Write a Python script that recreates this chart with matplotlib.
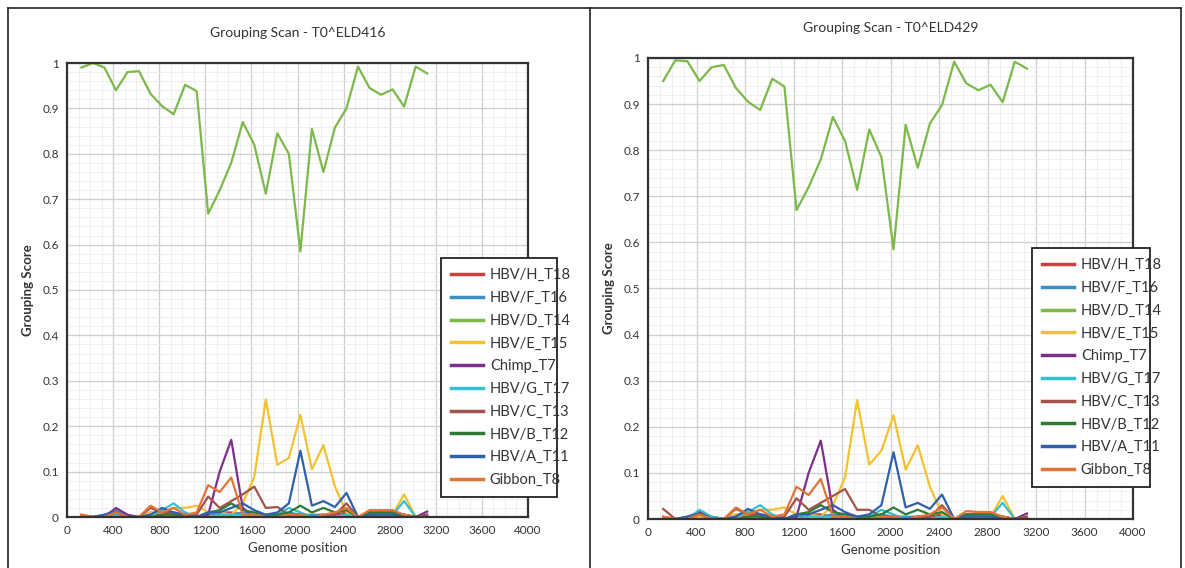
import matplotlib
matplotlib.use("Agg")
import matplotlib.pyplot as plt
import numpy as np
from matplotlib.lines import Line2D
from matplotlib.ticker import MultipleLocator, FuncFormatter

plt.rcParams['font.family'] = ['Lato', 'DejaVu Sans']

# window centres along the genome
positions = [125 + 100 * i for i in range(31)]

names = ["HBV/H_T18", "HBV/F_T16", "HBV/D_T14", "HBV/E_T15", "Chimp_T7",
         "HBV/G_T17", "HBV/C_T13", "HBV/B_T12", "HBV/A_T11", "Gibbon_T8"]
colors = ["#c8413c", "#3a8fc6", "#7cb84a", "#f2c230", "#7d2f8c",
          "#35c0d2", "#a3524c", "#2d7a33", "#2f60a8", "#e27438"]

# ---- T0^ELD416 ----
h18_a = [0.005, 0, 0, 0.01, 0, 0, 0.01, 0.005, 0.01, 0, 0, 0.005, 0.01, 0.01, 0.005, 0, 0, 0, 0, 0.005, 0, 0.005, 0.005, 0.01, 0, 0.01, 0.005, 0.01, 0.005, 0, 0.005]
f16_a = [0, 0, 0.005, 0.015, 0, 0, 0.005, 0.015, 0.01, 0.005, 0, 0.005, 0.01, 0.005, 0.01, 0.005, 0, 0.005, 0.01, 0.005, 0.005, 0.005, 0, 0.005, 0, 0.005, 0.005, 0.005, 0.005, 0, 0]
d14_a = [0.99, 1.0, 0.99, 0.94, 0.98, 0.982, 0.932, 0.905, 0.887, 0.952, 0.938, 0.668, 0.72, 0.78, 0.87, 0.82, 0.712, 0.845, 0.8, 0.585, 0.855, 0.76, 0.858, 0.9, 0.992, 0.945, 0.93, 0.942, 0.904, 0.992, 0.977]
e15_a = [0, 0, 0, 0.005, 0, 0, 0.01, 0.01, 0.02, 0.02, 0.025, 0.01, 0.01, 0.005, 0.03, 0.088, 0.259, 0.115, 0.13, 0.225, 0.105, 0.158, 0.067, 0.01, 0, 0.005, 0.005, 0.005, 0.05, 0, 0]
chimp_a = [0, 0, 0, 0.02, 0.005, 0, 0, 0, 0, 0, 0, 0.005, 0.1, 0.17, 0.02, 0, 0, 0, 0, 0, 0, 0, 0, 0, 0, 0, 0, 0, 0, 0, 0.012]
g17_a = [0, 0, 0, 0.005, 0, 0, 0.005, 0.015, 0.03, 0.01, 0, 0, 0.005, 0.005, 0.005, 0.005, 0, 0.005, 0.02, 0.01, 0, 0.005, 0, 0.005, 0, 0.005, 0.01, 0.005, 0.035, 0, 0]
c13_a = [0, 0, 0, 0.01, 0, 0, 0.02, 0.01, 0.01, 0, 0.005, 0.045, 0.02, 0.035, 0.05, 0.067, 0.02, 0.022, 0.005, 0.005, 0, 0.005, 0.005, 0.03, 0, 0.01, 0.01, 0.01, 0.005, 0, 0.005]
b12_a = [0, 0, 0, 0, 0, 0, 0, 0.005, 0.005, 0, 0, 0.01, 0.015, 0.03, 0.015, 0.01, 0.005, 0.005, 0.01, 0.025, 0.01, 0.02, 0.01, 0.015, 0, 0.01, 0.01, 0.01, 0.005, 0, 0]
a11_a = [0, 0, 0.005, 0.01, 0, 0, 0.005, 0.02, 0.01, 0.005, 0, 0.01, 0.01, 0.02, 0.03, 0.015, 0.005, 0.01, 0.03, 0.146, 0.025, 0.035, 0.022, 0.053, 0, 0.005, 0.005, 0.005, 0, 0, 0]
t8_a = [0.005, 0, 0, 0.01, 0, 0, 0.025, 0.01, 0.02, 0.005, 0.01, 0.07, 0.055, 0.087, 0.005, 0.005, 0, 0, 0.005, 0.005, 0, 0.005, 0.01, 0.02, 0, 0.015, 0.015, 0.015, 0.005, 0, 0]

# ---- T0^ELD429 ----
h18_b = [0.005, 0, 0, 0.01, 0, 0, 0.01, 0.005, 0.01, 0, 0, 0.005, 0.01, 0.01, 0.005, 0, 0, 0, 0, 0.005, 0, 0.005, 0.005, 0.01, 0, 0.01, 0.005, 0.01, 0.005, 0, 0.005]
f16_b = [0, 0, 0.005, 0.015, 0, 0, 0.005, 0.015, 0.01, 0.005, 0, 0.005, 0.01, 0.005, 0.01, 0.005, 0, 0.005, 0.01, 0.005, 0.005, 0.005, 0, 0.005, 0, 0.005, 0.005, 0.005, 0.005, 0, 0]
d14_b = [0.95, 0.995, 0.993, 0.95, 0.98, 0.985, 0.935, 0.905, 0.887, 0.955, 0.938, 0.67, 0.72, 0.78, 0.872, 0.82, 0.714, 0.845, 0.785, 0.585, 0.855, 0.762, 0.858, 0.898, 0.992, 0.945, 0.93, 0.942, 0.904, 0.992, 0.977]
e15_b = [0, 0, 0, 0.005, 0, 0, 0.01, 0.01, 0.02, 0.02, 0.025, 0.01, 0.01, 0.005, 0.03, 0.09, 0.258, 0.118, 0.148, 0.225, 0.107, 0.16, 0.07, 0.01, 0, 0.005, 0.005, 0.005, 0.05, 0, 0]
chimp_b = [0, 0, 0, 0.015, 0.005, 0, 0, 0, 0, 0, 0, 0.005, 0.1, 0.17, 0.02, 0, 0, 0, 0, 0, 0, 0, 0, 0, 0, 0, 0, 0, 0, 0, 0.012]
g17_b = [0, 0, 0, 0.02, 0.005, 0, 0.005, 0.015, 0.03, 0.01, 0, 0, 0.005, 0.005, 0.005, 0.005, 0, 0.005, 0.02, 0.01, 0, 0.005, 0, 0.005, 0, 0.005, 0.01, 0.005, 0.035, 0, 0]
c13_b = [0.022, 0, 0, 0.01, 0, 0, 0.022, 0.01, 0.01, 0, 0.005, 0.045, 0.02, 0.035, 0.05, 0.065, 0.02, 0.02, 0.005, 0.005, 0, 0.005, 0.005, 0.03, 0, 0.01, 0.01, 0.01, 0.005, 0, 0.005]
b12_b = [0, 0, 0, 0, 0, 0, 0, 0.005, 0.005, 0, 0, 0.01, 0.015, 0.03, 0.015, 0.01, 0.005, 0.005, 0.01, 0.025, 0.01, 0.02, 0.01, 0.015, 0, 0.01, 0.01, 0.01, 0.005, 0, 0]
a11_b = [0, 0, 0.005, 0.012, 0, 0, 0.005, 0.022, 0.01, 0.005, 0, 0.01, 0.01, 0.02, 0.03, 0.015, 0.005, 0.01, 0.03, 0.145, 0.025, 0.035, 0.022, 0.053, 0, 0.005, 0.005, 0.005, 0, 0, 0]
t8_b = [0.005, 0, 0, 0.01, 0, 0, 0.025, 0.01, 0.02, 0.005, 0.01, 0.07, 0.052, 0.087, 0.005, 0.005, 0, 0, 0.005, 0.005, 0, 0.005, 0.01, 0.025, 0, 0.017, 0.015, 0.015, 0.005, 0, 0]

W, H = 1185, 568

panels = [
    ("Grouping Scan - T0^ELD416", [h18_a, f16_a, d14_a, e15_a, chimp_a, g17_a, c13_a, b12_a, a11_a, t8_a],
     [67 / W, 1 - 517 / H, (528 - 67) / W, (517 - 63) / H], (441, 258, 557, 512)),
    ("Grouping Scan - T0^ELD429", [h18_b, f16_b, d14_b, e15_b, chimp_b, g17_b, c13_b, b12_b, a11_b, t8_b],
     [648 / W, 1 - 519 / H, (1133 - 648) / W, (519 - 58) / H], (1032, 248, 1150, 487)),
]

fig = plt.figure(figsize=(11.85, 5.68), dpi=100)

# panel frames
for xs, ys in [([8, 8], [568, 8]), ([8, 1181], [8, 8]), ([590, 590], [8, 568]), ([1181, 1181], [8, 568])]:
    fig.add_artist(Line2D([x / W for x in xs], [1 - y / H for y in ys], color="#222222", lw=1.2))

for title, series, rect, lbox in panels:
    ax = fig.add_axes(rect)
    for name, col, vals in zip(names, colors, series):
        ax.plot(positions, vals, color=col, lw=1.6, label=name)
    ax.set_xlim(0, 4000)
    ax.set_ylim(0, 1)
    ax.xaxis.set_major_locator(MultipleLocator(400))
    ax.xaxis.set_minor_locator(MultipleLocator(100))
    ax.yaxis.set_major_locator(MultipleLocator(0.1))
    ax.yaxis.set_minor_locator(MultipleLocator(0.02))
    ax.yaxis.set_major_formatter(FuncFormatter(lambda v, p: "%g" % round(v, 1)))
    ax.grid(which="major", color="#cfcfcf", lw=0.9)
    ax.grid(which="minor", color="#ececec", lw=0.6)
    ax.set_axisbelow(True)
    ax.tick_params(which="both", length=0, labelsize=8.5, colors="#333333", pad=6)
    for s in ax.spines.values():
        s.set_color("#333333")
        s.set_linewidth(1.6)
    ax.set_title(title, fontsize=10, color="#333333", pad=19)
    ax.set_xlabel("Genome position", fontsize=9.5, color="#333333", labelpad=4)
    ax.set_ylabel("Grouping Score", fontsize=9.5, color="#333333", fontweight="bold", labelpad=6)
    x0, y0, x1, y1 = lbox
    leg = ax.legend(loc="upper left", bbox_to_anchor=(x0 / W, 1 - y1 / H, (x1 - x0) / W, (y1 - y0) / H),
                    bbox_transform=fig.transFigure, mode="expand", fontsize=10.5, frameon=True, fancybox=False,
                    edgecolor="#222222", framealpha=1, labelspacing=0.6, handlelength=2.2,
                    borderpad=0.7, handletextpad=0.45, borderaxespad=0)
    leg.get_frame().set_linewidth(1.3)
    for t in leg.get_texts():
        t.set_color("#333333")
    for h in leg.get_lines():
        h.set_linewidth(2.5)

fig.savefig("out.png", dpi=100)
